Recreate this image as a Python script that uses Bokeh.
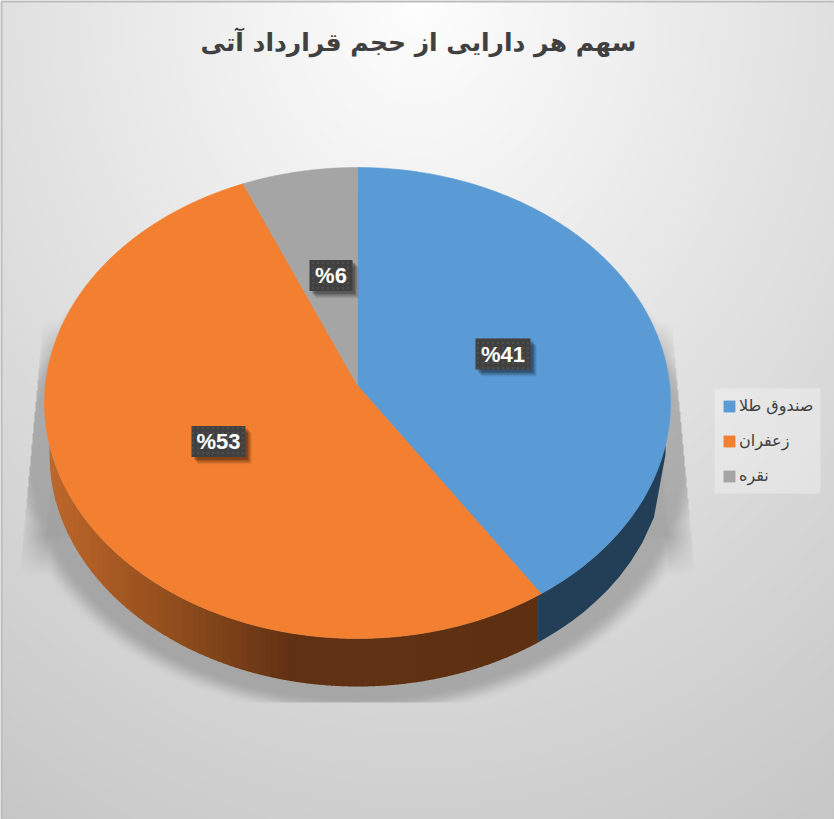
import numpy as np
from bokeh.plotting import figure
from bokeh.embed import file_html
from bokeh.resources import INLINE
from bokeh.models import Legend, LegendItem
from bokeh.core.properties import value

title = "سهم هر دارایی از حجم قرارداد آتی"
categories = ["صندوق طلا", "زعفران", "نقره"]
shares = [40.7, 52.9, 6.4]
share_labels = ["%41", "%53", "%6"]
colors = ["#5b9bd5", "#f38031", "#a5a5a5"]

W, H = 834, 819
CX, CY, RX, RY = 357.0, 402.5, 313.0, 235.5
APEX = 385.0
BCY, BRX, BRY = 454.0, 308.0, 232.0


def Y(py):
    return H - np.asarray(py, dtype=float)


k = (CY - APEX) / RY
A = RX * np.sqrt(1 - k * k)


def rim(th):
    u, v = np.sin(th), np.cos(th)
    den = 1 + k * v
    return CX + A * u / den, CY - (RY * v + (CY - APEX)) / den


p = figure(width=W, height=H, x_range=(0, W), y_range=(0, H),
           output_backend="svg", toolbar_location=None, min_border=0,
           x_axis_type=None, y_axis_type=None)
p.grid.visible = False
p.outline_line_color = None
p.background_fill_color = "#e0e0e0"
p.border_fill_color = None

# background and soft shadow
yy, xx = np.mgrid[0:H, 0:W]
px = xx + 0.5
py = H - (yy + 0.5)
t = np.sqrt(((px - 417) / 820) ** 2 + (py / 1014) ** 2)
bg = 254 - 58 * np.clip(t, 0, 1)
r = np.sqrt(((px - CX) / BRX) ** 2 + ((py - BCY) / BRY) ** 2)
s = np.clip(1 - (r - 1.05) / 0.09, 0, 1)
s = s * s * (3 - 2 * s)
dist = 315 + 20 * (py - 330) / 217 - np.abs(px - CX)
side = (0.2 + 0.8 * np.clip(dist / 24, 0, 1)) * np.clip((py - 320) / 30, 0, 1) * np.clip((575 - py) / 40, 0, 1)
side = side * (dist > 0)
s = s * (py < 702) * np.where(py < 530, dist > 0, True)
sh = np.maximum(s * 0.22, side * 0.24)
g = bg * (1 - sh)
g[py < 2] = 188
g[:, :2] = 188
img = np.zeros((H, W), dtype=np.uint32)
view = img.view(np.uint8).reshape((H, W, 4))
view[..., 0] = view[..., 1] = view[..., 2] = np.clip(g, 0, 255).astype(np.uint8)
view[..., 3] = 255
p.image_rgba(image=[img], x=0, y=0, dw=W, dh=H)

# slice boundary angles
fr = np.cumsum([0] + shares) / sum(shares) * 2 * np.pi
th_bound = fr[1]


def wall_poly(x0, x1):
    xs = np.linspace(x0, x1, 12)
    top = CY + RY * np.sqrt(np.clip(1 - ((xs - CX) / RX) ** 2, 0, 1))
    bot = BCY + BRY * np.sqrt(np.clip(1 - ((xs - CX) / BRX) ** 2, 0, 1))
    return np.r_[xs, xs[::-1]], Y(np.r_[top, bot[::-1]])


bx_top, by_top = rim(th_bound)
xb = bx_top - 3
stops_x = [49, 120, 200, 290, 540]
stops_c = [(190, 104, 44), (165, 88, 34), (135, 72, 27), (98, 50, 20), (94, 48, 18)]
edges = np.arange(49, xb, 6.0).tolist() + [xb]
sx, sy, sc = [], [], []
for a, b in zip(edges[:-1], edges[1:]):
    px_, py_ = wall_poly(a, min(b + 1, xb))
    sx.append(px_.tolist()); sy.append(py_.tolist())
    m = (a + b) / 2
    c = [int(np.interp(m, stops_x, [q[i] for q in stops_c])) for i in range(3)]
    sc.append("#%02x%02x%02x" % tuple(c))
p.patches(sx, sy, fill_color=sc, line_color=None)
bxs, bys = wall_poly(xb, 665)
p.patch(bxs, bys, fill_color="#223f57", line_color=None)

# top face
renderers = []
for i in range(len(shares)):
    th = np.linspace(fr[i], fr[i + 1], 120)
    ex, ey = rim(th)
    xs = np.r_[CX, ex]
    ys = np.r_[APEX, ey]
    renderers.append(p.patch(xs, Y(ys), fill_color=colors[i], line_color=colors[i], line_width=0.6))

# data labels
lab_x = [502.5, 218.0, 330.5]
lab_y = [353.5, 441.0, 275.0]
lab_w = [55, 54, 43]
lab_h = 31
for d, a in [(8, .06), (7, .07), (6, .08), (5, .10), (4, .12), (3, .14)]:
    p.rect([x + d * 0.8 for x in lab_x], Y([y + d * 0.9 for y in lab_y]), width=lab_w, height=lab_h,
           fill_color="#000000", fill_alpha=a, line_color=None)
p.rect(lab_x, Y(lab_y), width=lab_w, height=lab_h, fill_color="#404040", line_color=None,
       hatch_pattern="dot", hatch_color="#4e4e4e", hatch_scale=5, hatch_weight=1)
p.text(lab_x, Y(lab_y), text=share_labels, text_align="center", text_baseline="middle",
       text_color="#ffffff", text_font=value("Liberation Sans"), text_font_style="bold",
       text_font_size="22px")

# title
p.text([418], Y([42]), text=[title], text_align="center", text_baseline="middle",
       text_color="#404040", text_font=value("DejaVu Sans"), text_font_style="bold",
       text_font_size="25px")

# legend panel, then the legend itself
p.rect([767], Y([440.5]), width=106, height=105, fill_color="#ffffff", fill_alpha=0.3, line_color=None)
legend = Legend(items=[LegendItem(label=c, renderers=[r]) for c, r in zip(categories, renderers)],
                location=(722, 334), orientation="vertical", margin=0, padding=9, spacing=16,
                glyph_width=14, glyph_height=14, label_height=15, label_standoff=3,
                background_fill_alpha=0, border_line_color=None, label_text_color="#404040",
                label_text_font="DejaVu Sans", label_text_font_size="16px")
p.add_layout(legend, "center")

open("out.html", "w").write(file_html(p, INLINE))
